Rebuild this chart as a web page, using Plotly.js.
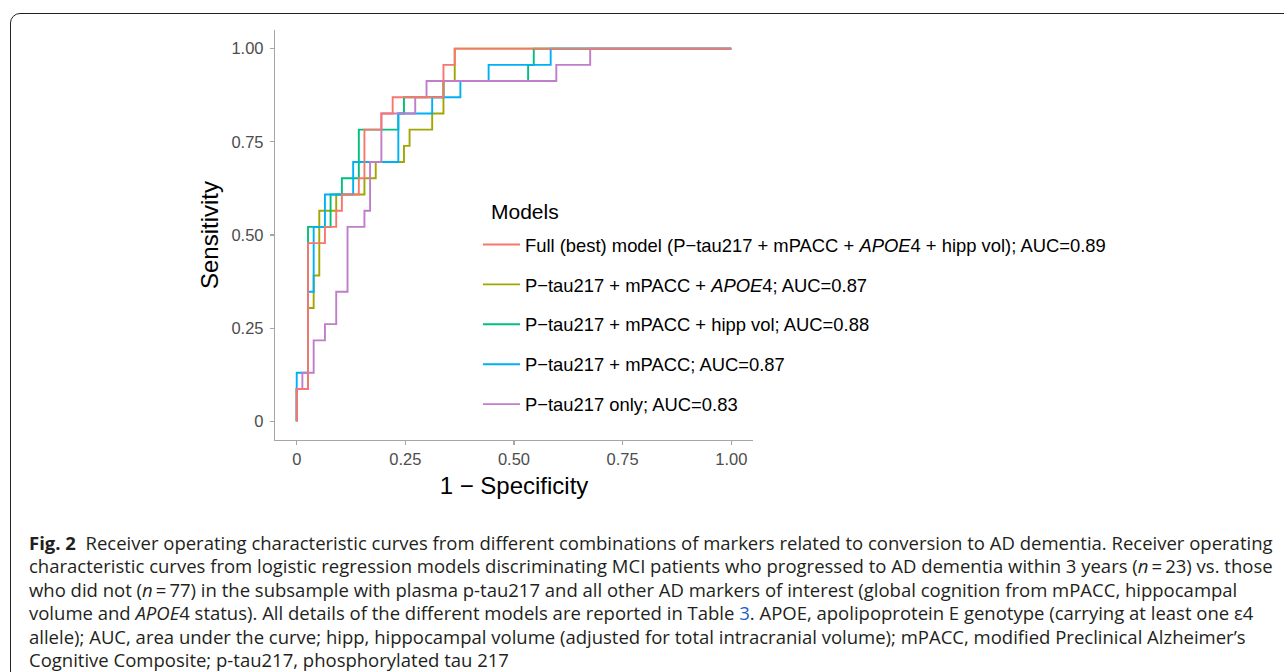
<!DOCTYPE html>
<html><head><meta charset="utf-8">
<script src="https://cdn.plot.ly/plotly-3.0.1.min.js"></script>
<style>
html,body{margin:0;padding:0;background:#fff;}
#wrap{position:relative;width:1284px;height:672px;overflow:hidden;background:#fff;}
#chart{position:absolute;left:0;top:0;width:1284px;height:672px;}
#frame{position:absolute;left:10px;top:13px;width:1300px;height:668px;border:1.3px solid #222;border-radius:10px;pointer-events:none;box-sizing:border-box;}
#caption{position:absolute;left:29px;top:531px;font-family:'Open Sans','Noto Sans',sans-serif;font-size:18.5px;line-height:23.4px;color:#231f20;white-space:nowrap;}
#caption b{font-weight:700;}
#caption .lnk{color:#1a5fc9;}
</style></head>
<body>
<div id="wrap">
<div id="chart"></div>
<div id="frame"></div>
<div id="caption">
<div><b>Fig. 2</b>&nbsp; Receiver operating characteristic curves from different combinations of markers related to conversion to AD dementia. Receiver operating</div>
<div>characteristic curves from logistic regression models discriminating MCI patients who progressed to AD dementia within 3 years (<i>n</i>&thinsp;=&thinsp;23) vs. those</div>
<div>who did not (<i>n</i>&thinsp;=&thinsp;77) in the subsample with plasma p-tau217 and all other AD markers of interest (global cognition from mPACC, hippocampal</div>
<div>volume and <i>APOE</i>4 status). All details of the different models are reported in Table <span class="lnk">3</span>. APOE, apolipoprotein E genotype (carrying at least one ε4</div>
<div>allele); AUC, area under the curve; hipp, hippocampal volume (adjusted for total intracranial volume); mPACC, modified Preclinical Alzheimer’s</div>
<div>Cognitive Composite; p-tau217, phosphorylated tau 217</div>
</div>
</div>
<script>
// Model names (legend order)
const modelNames = [
  "Full (best) model (P\u2212tau217 + mPACC + <i>APOE</i>4 + hipp vol); AUC=0.89",
  "P\u2212tau217 + mPACC + <i>APOE</i>4; AUC=0.87",
  "P\u2212tau217 + mPACC + hipp vol; AUC=0.88",
  "P\u2212tau217 + mPACC; AUC=0.87",
  "P\u2212tau217 only; AUC=0.83"
];
const modelColors = ["#F8766D", "#A3A500", "#00BF7D", "#00B0F6", "#BF7DCA"];
const legendTitle = "Models";

// ROC threshold points (1 - specificity, sensitivity)
const fprFull   = [0, 0.0260, 0.0649, 0.0909, 0.1039, 0.1429, 0.1558, 0.1948, 0.2208, 0.3377, 0.3636, 1];
const tprFull   = [0, 0.0870, 0.4783, 0.5217, 0.5652, 0.6087, 0.6522, 0.7826, 0.8261, 0.8696, 0.9565, 1];

const fprApoe   = [0, 0.0260, 0.0390, 0.0519, 0.0909, 0.1558, 0.1818, 0.2468, 0.2597, 0.3117, 0.3377, 0.3636, 1];
const tprApoe   = [0, 0.0870, 0.3043, 0.3913, 0.5652, 0.6087, 0.6522, 0.6957, 0.7391, 0.7826, 0.8261, 0.9130, 1];

const fprHipp   = [0, 0.0260, 0.0779, 0.1039, 0.1429, 0.2338, 0.2468, 0.3377, 0.5325, 0.5455, 1];
const tprHipp   = [0, 0.0870, 0.5217, 0.6087, 0.6522, 0.7826, 0.8261, 0.8696, 0.9130, 0.9565, 1];

const fprMpacc  = [0, 0.0260, 0.0390, 0.0649, 0.1299, 0.2338, 0.3117, 0.3766, 0.4416, 0.5844, 1];
const tprMpacc  = [0, 0.1304, 0.3478, 0.5217, 0.6087, 0.6957, 0.8261, 0.8696, 0.9130, 0.9565, 1];

const fprOnly   = [0, 0.0130, 0.0390, 0.0649, 0.0909, 0.1169, 0.1558, 0.1688, 0.1948, 0.2727, 0.2987, 0.5974, 0.6753, 1];
const tprOnly   = [0, 0.0870, 0.1304, 0.2174, 0.2609, 0.3478, 0.5217, 0.5652, 0.6957, 0.8261, 0.8696, 0.9130, 0.9565, 1];

const tickVals = [0, 0.25, 0.5, 0.75, 1];
const tickText = ["0", "0.25", "0.50", "0.75", "1.00"];

const xs = [fprFull, fprApoe, fprHipp, fprMpacc, fprOnly];
const ys = [tprFull, tprApoe, tprHipp, tprMpacc, tprOnly];
// drawing order bottom -> top (red drawn last, on top)
const drawOrder = [1, 2, 3, 4, 0];

const traces = drawOrder.map(i => ({
  type: 'scatter', mode: 'lines', name: modelNames[i],
  x: xs[i], y: ys[i],
  line: {shape: 'vh', color: modelColors[i], width: 1.9},
  legendgroup: 'g' + i,
  legendrank: i + 1,
  hoverinfo: 'skip'
}));

const FONT = 'Liberation Sans, Arial, sans-serif';
const L = 275.3, R = 752.7, T = 30.4, B = 439.6, W = 1284, H = 672;
const axisCommon = {
  range: [-0.05, 1.05], tickvals: tickVals, ticktext: tickText,
  showgrid: false, zeroline: false, showline: true,
  linecolor: '#a6a6a6', linewidth: 1.2,
  ticks: 'outside', ticklen: 4, tickwidth: 1.2, tickcolor: '#a6a6a6',
  tickfont: {family: FONT, size: 16.5, color: '#4d4d4d'},
  fixedrange: true
};
const layout = {
  width: W, height: H,
  margin: {l: L, r: W - R, t: T, b: H - B, pad: 0},
  paper_bgcolor: 'rgba(0,0,0,0)', plot_bgcolor: 'rgba(0,0,0,0)',
  showlegend: true,
  xaxis: Object.assign({}, axisCommon, {
    title: {text: '1 \u2212 Specificity', font: {family: FONT, size: 24, color: '#000'}, standoff: 10},
    ticklabelstandoff: 0
  }),
  yaxis: Object.assign({}, axisCommon, {
    title: {text: 'Sensitivity', font: {family: FONT, size: 24, color: '#000'}, standoff: 6},
    ticklabelstandoff: 3
  }),
  legend: {
    x: (478 - L) / (R - L), y: (B - 226) / (B - T), xanchor: 'left', yanchor: 'top',
    bgcolor: 'rgba(0,0,0,0)', borderwidth: 0,
    font: {family: FONT, size: 18.4, color: '#000'},
    tracegroupgap: 13, itemwidth: 37, traceorder: 'grouped'
  },
  annotations: [{
    xref: 'paper', yref: 'paper', x: (489 - L) / (R - L), y: (B - 212) / (B - T),
    xanchor: 'left', yanchor: 'middle', showarrow: false,
    text: legendTitle, font: {family: FONT, size: 21, color: '#000'}
  }]
};
Plotly.newPlot('chart', traces, layout, {displayModeBar: false, staticPlot: true});
</script>
</body></html>
